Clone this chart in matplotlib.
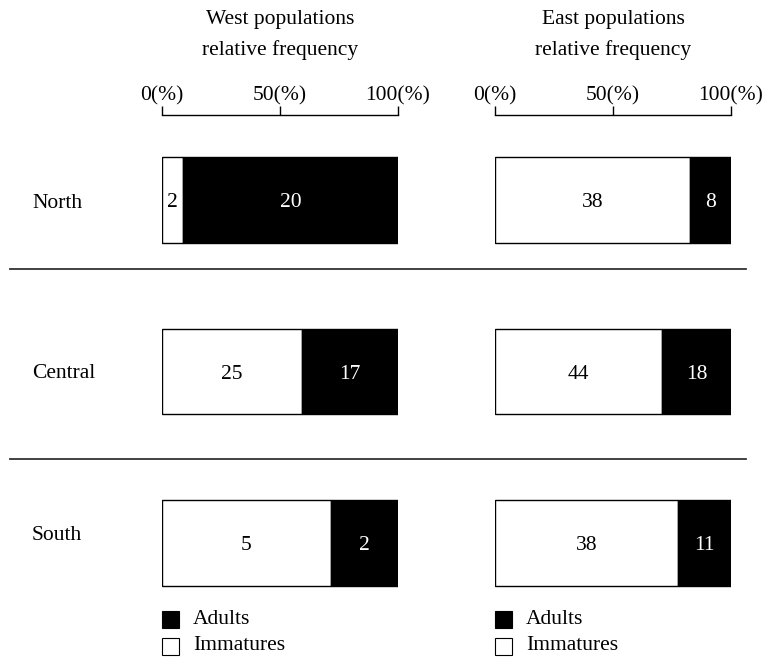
import matplotlib
matplotlib.use("Agg")
import matplotlib.pyplot as plt
from matplotlib.patches import Rectangle
from matplotlib.lines import Line2D

plt.rcParams['font.family'] = ['Liberation Serif', 'DejaVu Serif']

regions = ["North", "Central", "South"]
west_immatures = [2, 25, 5]
west_adults = [20, 17, 2]
east_immatures = [38, 44, 38]
east_adults = [8, 18, 11]
panel_titles = ["West populations\nrelative frequency", "East populations\nrelative frequency"]
tick_vals = [0, 50, 100]
tick_labels = ["0(%)", "50(%)", "100(%)"]
legend_labels = ["Adults", "Immatures"]

W, H = 762, 658
fig = plt.figure(figsize=(W / 100, H / 100), dpi=100)

def fx(x):
    return x / W

def fy(y):
    return 1 - y / H

FS = 15.5
row_px = 171.5
top_px, bot_px = 115, 600
y_top = -(200 - top_px) / row_px
y_bot = 2 + (bot_px - 543) / row_px
txt_off = 3 / row_px

panels = [
    (162, west_immatures, west_adults, panel_titles[0]),
    (495, east_immatures, east_adults, panel_titles[1]),
]

for left_px, imm, adu, title in panels:
    ax = fig.add_axes([fx(left_px), fy(bot_px), 236 / W, (bot_px - top_px) / H])
    ax.set_xlim(0, 100)
    ax.set_ylim(y_bot, y_top)
    totals = [a + b for a, b in zip(imm, adu)]
    imm_pct = [100 * i / t for i, t in zip(imm, totals)]
    adu_pct = [100 * a / t for a, t in zip(adu, totals)]
    ypos = list(range(len(regions)))
    ax.barh(ypos, imm_pct, height=0.5, color="white", edgecolor="black", linewidth=1.0)
    ax.barh(ypos, adu_pct, left=imm_pct, height=0.5, color="black", edgecolor="black", linewidth=1.0)
    for y, ip, ap, iv, av in zip(ypos, imm_pct, adu_pct, imm, adu):
        ax.text(ip / 2, y + txt_off, str(iv), ha="center", va="center", fontsize=FS, color="black")
        ax.text(ip + ap / 2, y + txt_off, str(av), ha="center", va="center", fontsize=FS, color="white")
    for s in ["left", "right", "bottom"]:
        ax.spines[s].set_visible(False)
    ax.spines["top"].set_linewidth(1.0)
    ax.xaxis.tick_top()
    ax.set_xticks(tick_vals)
    ax.set_xticklabels(tick_labels, fontsize=FS)
    ax.tick_params(axis="x", direction="out", length=6.5, width=1.0, pad=0)
    ax.set_yticks([])
    ax.patch.set_alpha(0)
    cx = left_px + 118
    fig.text(fx(cx), fy(35), title, ha="center", va="center", fontsize=FS, linespacing=1.8)
    # legend
    fig.patches.append(Rectangle((fx(left_px), fy(628)), 17 / W, 17 / H, transform=fig.transFigure,
                                 facecolor="black", edgecolor="black", linewidth=0.8))
    fig.patches.append(Rectangle((fx(left_px), fy(655)), 17 / W, 17 / H, transform=fig.transFigure,
                                 facecolor="white", edgecolor="black", linewidth=0.8))
    fig.text(fx(left_px + 31), fy(619), legend_labels[0], ha="left", va="center", fontsize=FS)
    fig.text(fx(left_px + 31), fy(646), legend_labels[1], ha="left", va="center", fontsize=FS)

for y, lab in zip([204, 374, 536], regions):
    fig.text(fx(32), fy(y), lab, ha="left", va="center", fontsize=FS)

for y in [269, 459]:
    fig.add_artist(Line2D([fx(10), fx(746)], [fy(y), fy(y)], transform=fig.transFigure,
                          color="#333333", linewidth=1.3))

fig.savefig("out.png", dpi=100)
